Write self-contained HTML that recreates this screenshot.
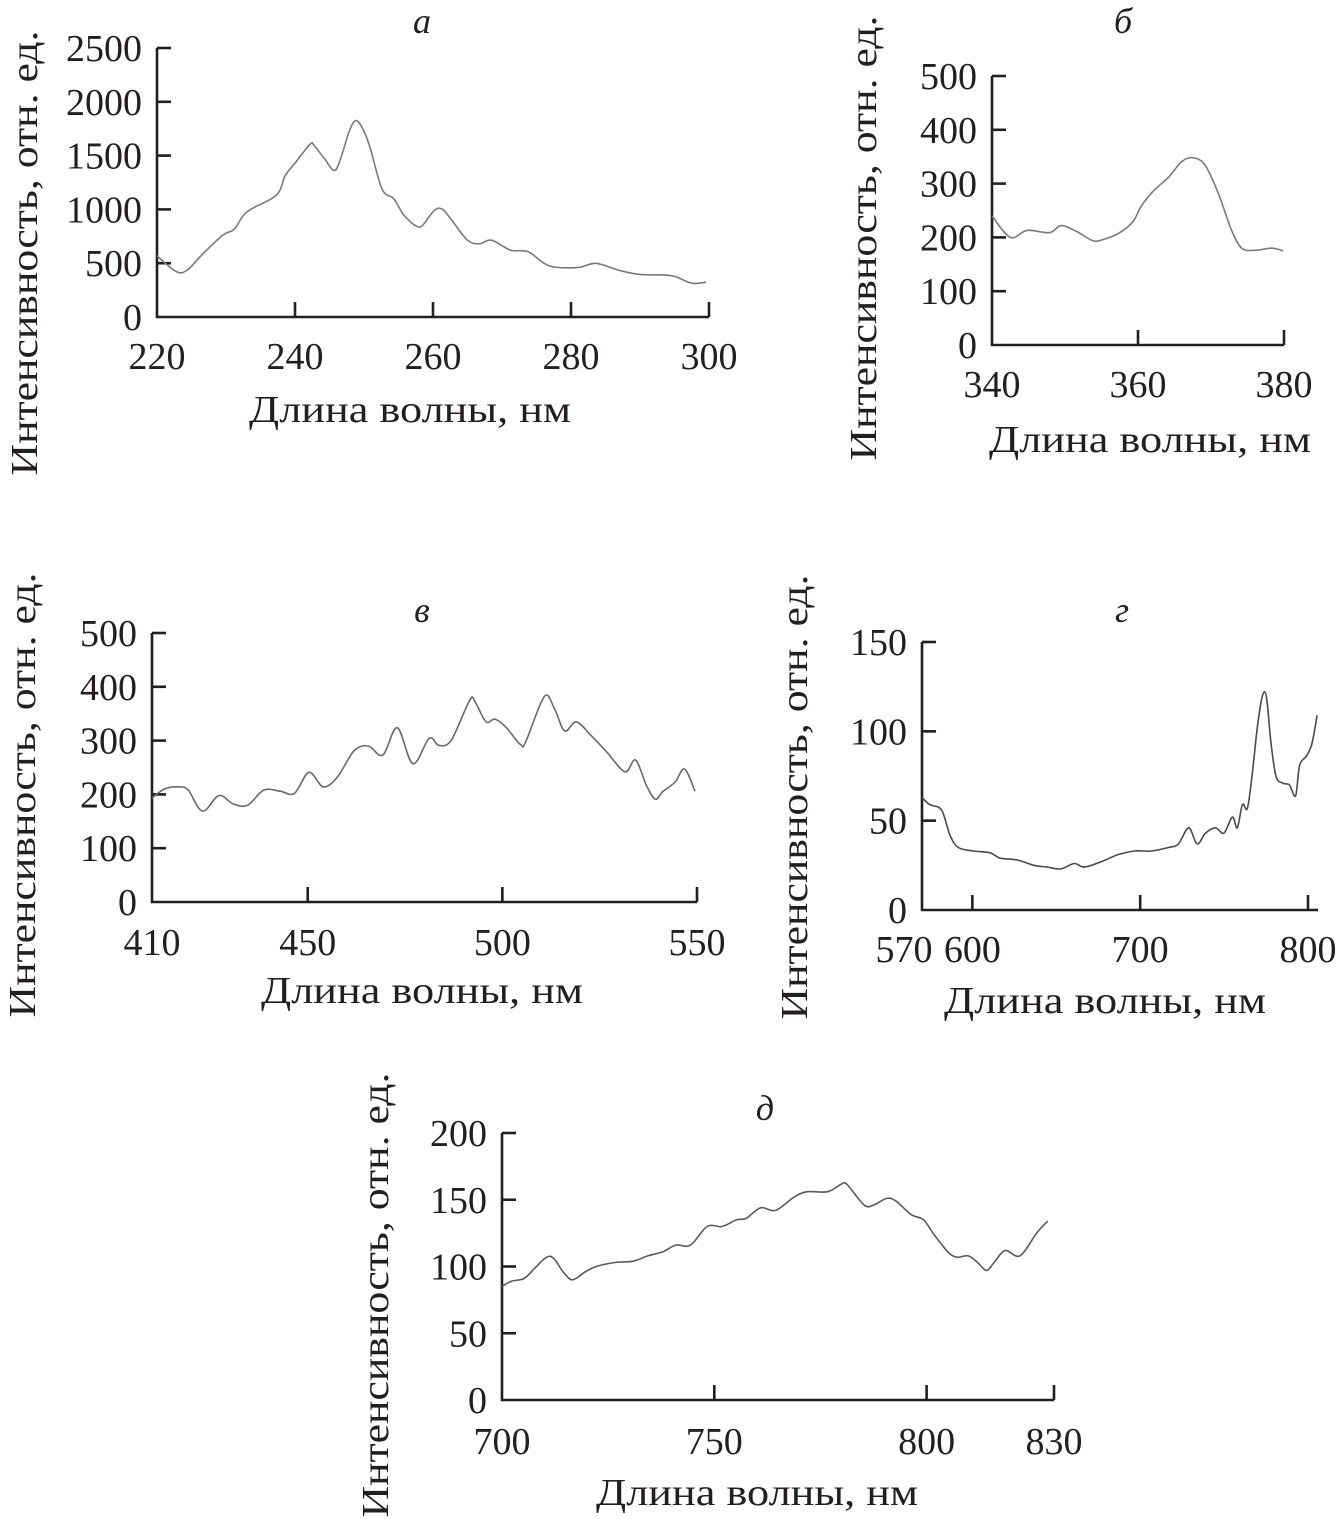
<!DOCTYPE html>
<html><head><meta charset="utf-8">
<style>
html,body{margin:0;padding:0;background:#fff;}
svg{display:block;font-family:"Liberation Serif",serif;}
.tk{font-size:38px;fill:#231f20;}
.ttl{font-size:36px;fill:#231f20;font-style:italic;}
</style></head>
<body>
<svg id="fig" width="1336" height="1519" viewBox="0 0 1336 1519" xmlns="http://www.w3.org/2000/svg"></svg>
<script>
// Panel а
const aWave=[220,221.2,223,224.4,226.5,229.5,231.2,233,236.6,237.8,238.6,240.1,242.2,242.8,244.3,245.7,246.6,247.8,248.7,249.6,250.8,252.6,254.3,255.8,257.6,258.5,260.2,261.4,262.9,265,266.7,268.5,271.2,273.8,276.8,280.9,283.6,286.8,289.8,293.4,295.1,297.5,299.6];
const aInt=[570,499,416,437,576,760,816,976,1099,1176,1315,1438,1607,1592,1469,1361,1469,1715,1823,1776,1592,1192,1099,945,844,853,991,1000,884,714,680,714,622,606,477,459,499,437,397,391,376,314,323];
const aYTicks=[0,500,1000,1500,2000,2500];
const aXTicks=[220,240,260,280,300];
// Panel б
const bWave=[340,342.5,344.8,347.9,349.5,351.6,353.8,355.2,357.4,359.3,360.4,362,364.2,366,367.6,369.2,371,372.8,374.2,376,378.3,379.9];
const bInt=[240,200,213,209,222,211,194,196,208,229,257,285,312,341,348,334,282,214,180,176,180,175];
const bYTicks=[0,100,200,300,400,500];
const bXTicks=[340,360,380];
// Panel в
const vWave=[410,413.2,417,419.3,423,427.2,430.9,434.6,438.7,442.9,446.6,450.3,454,457.7,461.9,465.6,469.3,473,477,481.2,483.7,486.9,491.6,493,495.8,498.1,500.9,504.6,506,510.8,513.4,516,519,522.7,526.8,531.5,534.2,537,539.3,541.2,544.4,546.8,549.5];
const vInt=[193,210,214,208,169,198,182,180,208,206,202,241,214,233,281,290,273,324,257,304,291,301,375,372,335,340,325,293,298,382,359,318,335,310,279,242,264,217,191,205,223,247,206];
const vYTicks=[0,100,200,300,400,500];
const vXTicks=[410,450,500,550];
// Panel г
const gWave=[570,574.5,581.6,586.6,591.6,600.6,610.6,616.6,626.7,636.7,644.7,652.7,660.7,666.7,676.8,686.8,696.8,706.8,716.8,722.8,728.9,733.9,738.9,744.9,749.9,754.9,757.9,760.9,763.9,766.9,769.9,772.9,775.3,777.9,780.9,784.9,788.9,792.6,795,799,802,804,805.4];
const gInt=[63,59,56,42,35,33,32,29,28,25,24,23,26,24,27,31,33,33,35,37,46,37,43,46,43,52,46,59,57,77,103,120,119,94,75,71,70,64,81,86,92,101,109];
const gYTicks=[0,50,100,150];
const gXTicks=[570,600,700,800];
// Panel д
const dWave=[700,702.2,705.2,707.8,710.5,712.2,714.4,716.6,719.6,722.2,726.6,730.9,734.4,737.9,740.9,744.4,748.3,751.8,755.3,757.5,760.9,764.4,768.8,771.9,776.7,780.1,781.4,785.3,787.5,790.6,792.8,796.3,799.3,801.5,805,807.1,809.8,812,814.1,815.9,818.5,822,825.9,828.5];
const dInt=[85,89,91,99,107,106,96,90,96,100,103,104,108,111,116,116,130,130,135,136,144,142,152,156,156,162,161,146,146,151,149,139,135,125,111,107,108,103,97,103,112,108,125,134];
const dYTicks=[0,50,100,150,200];
const dXTicks=[700,750,800,830];

const NS='http://www.w3.org/2000/svg';
const fig=document.getElementById('fig');
function mk(tag,attrs,parent){const e=document.createElementNS(NS,tag);for(const k in attrs)e.setAttribute(k,attrs[k]);parent.appendChild(e);return e;}

function smooth(pts){
  let d='M'+pts[0][0].toFixed(1)+','+pts[0][1].toFixed(1);
  for(let i=0;i<pts.length-1;i++){
    const p0=pts[i-1]||pts[i],p1=pts[i],p2=pts[i+1],p3=pts[i+2]||p2;
    const c1=[p1[0]+(p2[0]-p0[0])/6,p1[1]+(p2[1]-p0[1])/6];
    const c2=[p2[0]-(p3[0]-p1[0])/6,p2[1]-(p3[1]-p1[1])/6];
    d+=` C${c1[0].toFixed(1)},${c1[1].toFixed(1)} ${c2[0].toFixed(1)},${c2[1].toFixed(1)} ${p2[0].toFixed(1)},${p2[1].toFixed(1)}`;
  }
  return d;
}

function panel(cfg){
  const g=mk('g',{},fig);
  
  
  const xs=v=>cfg.x0+(v-cfg.xmin)/(cfg.xmax-cfg.xmin)*(cfg.x1-cfg.x0);
  const ys=v=>cfg.y0-(v-cfg.ymin)/(cfg.ymax-cfg.ymin)*(cfg.y0-cfg.y1);
  const axEnd=cfg.axEnd||cfg.x1;
  const ax=mk('path',{d:`M${cfg.x0},${cfg.y1} V${cfg.y0} H${axEnd}`,fill:'none',stroke:'#231f20','stroke-width':2.6},g);
  
  
  cfg.yt.forEach(v=>{
    const y=ys(v);
    if(v!==cfg.ymin){const t=mk('line',{x1:cfg.x0,x2:cfg.x0+14,y1:y,y2:y,stroke:'#231f20','stroke-width':2.6},g);
      
      }
    const tx=mk('text',{x:cfg.x0-15,y:y+13,'text-anchor':'end',class:'tk'},g);
    tx.textContent=v;
    
    
  });
  cfg.xt.forEach((v,i)=>{
    const x=xs(v);
    if(Math.abs(x-cfg.x0)>3){const t=mk('line',{x1:x,x2:x,y1:cfg.y0,y2:cfg.y0-15,stroke:'#231f20','stroke-width':2.6},g);
      
      }
    const tx=mk('text',{x:x+(cfg.xoff?cfg.xoff[i]:0),y:cfg.tkBase,'text-anchor':'middle',class:'tk'},g);
    tx.textContent=v;
    
    
  });
  const pts=cfg.wave.map((w,i)=>[xs(w),ys(cfg.vals[i])]);
  const ln=mk('path',{d:smooth(pts),fill:'none',stroke:cfg.color,'stroke-width':1.6,'stroke-linejoin':'round'},g);
  
  
  const ti=mk('text',{x:cfg.tx,y:cfg.ty,'text-anchor':'middle',class:'ttl'},g);
  ti.textContent=cfg.title;
  
  
  const xl=mk('text',{x:cfg.xlx,y:cfg.xly,'text-anchor':'middle',class:'tk',textLength:322,lengthAdjust:'spacingAndGlyphs'},g);
  xl.textContent='Длина волны, нм';
  
  
  const yl=mk('text',{x:0,y:0,'text-anchor':'middle',class:'tk',textLength:445,lengthAdjust:'spacingAndGlyphs',transform:`translate(${cfg.ylx},${cfg.yly}) rotate(-90)`},g);
  yl.textContent='Интенсивность, отн. ед.';
  
  
}

panel({id:'a',title:'а',wave:aWave,vals:aInt,yt:aYTicks,xt:aXTicks,xmin:220,xmax:300,ymin:0,ymax:2500,
  x0:157,x1:709,y0:317,y1:48,tkBase:369,tx:422,ty:33,xlx:410,xly:422,ylx:37,yly:253,color:'#7a7a7a'});
panel({id:'b',title:'б',wave:bWave,vals:bInt,yt:bYTicks,xt:bXTicks,xmin:340,xmax:380,ymin:0,ymax:500,
  x0:992,x1:1284,y0:345,y1:76,tkBase:397,tx:1123,ty:33,xlx:1150,xly:452,ylx:876,yly:238,color:'#7a7a7a'});
panel({id:'v',title:'в',wave:vWave,vals:vInt,yt:vYTicks,xt:vXTicks,xmin:410,xmax:550,ymin:0,ymax:500,
  x0:152,x1:697,y0:902,y1:633,tkBase:955,tx:422,ty:622,xlx:422,xly:1003,ylx:35,yly:795,color:'#6a6a6a'});
panel({id:'g',title:'г',wave:gWave,vals:gInt,yt:gYTicks,xt:gXTicks,xmin:570,xmax:800,ymin:0,ymax:150,
  x0:922,x1:1308,y0:910,y1:642,axEnd:1318,xoff:[-18,0,0,0],tkBase:962,tx:1122,ty:622,xlx:1105,xly:1013,ylx:807,yly:797,color:'#4a4a4a'});
panel({id:'d',title:'д',wave:dWave,vals:dInt,yt:dYTicks,xt:dXTicks,xmin:700,xmax:830,ymin:0,ymax:200,
  x0:502,x1:1054,y0:1400,y1:1133,tkBase:1454,tx:765,ty:1120,xlx:757,xly:1505,ylx:388,yly:1295,color:'#5a5a5a'});
</script>
</body></html>
